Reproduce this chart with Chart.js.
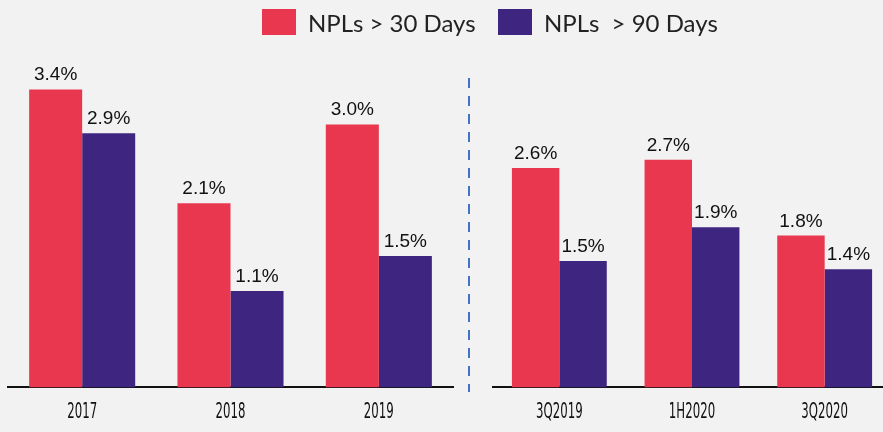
<!DOCTYPE html>
<html>
<head>
<meta charset="utf-8">
<script src="https://cdn.jsdelivr.net/npm/chart.js@4.4.0/dist/chart.umd.min.js"></script>
<style>
  html, body { margin: 0; padding: 0; background: #f2f2f2; overflow: hidden; }
  #wrap { position: relative; width: 883px; height: 432px; overflow: hidden; background: #f2f2f2; }
  canvas { position: absolute; top: 0; }
  #c1 { left: 0; }
  #c2 { left: 478px; }
  .leg { position: absolute; top: 9px; height: 26px; display: flex; align-items: center;
         font-family: Lato, 'DejaVu Sans', sans-serif; font-size: 24px; color: #222; white-space: pre; }
  .leg span.box { display: inline-block; width: 34px; height: 26px; margin-right: 12px; }
</style>
</head>
<body>
<div id="wrap">
  <canvas id="c1" width="475" height="446"></canvas>
  <canvas id="c2" width="413" height="446"></canvas>
  <div class="leg" style="left:262px"><span class="box" style="background:#e8374f"></span>NPLs &gt; 30 Days</div>
  <div class="leg" style="left:498px"><span class="box" style="background:#3e2580"></span>NPLs  &gt; 90 Days</div>
</div>
<script>
// annual figures
const anniLabels = ['2017', '2018', '2019'];
const anniNpl30 = [3.4, 2.1, 3.0];
const anniNpl90 = [2.9, 1.1, 1.5];

// recent periods
const periodiLabels = ['3Q2019', '1H2020', '3Q2020'];
const periodiNpl30 = [2.6, 2.7, 1.8];
const periodiNpl90 = [1.5, 1.9, 1.4];

const rosso = '#e8374f';
const viola = '#3e2580';

const etichette = {
    id: 'etichette',
    afterDatasetsDraw(chart) {
        const ctx = chart.ctx;
        ctx.save();
        ctx.font = '19px "Liberation Sans", Arial, sans-serif';
        ctx.fillStyle = '#111';
        ctx.textAlign = 'center';
        ctx.textBaseline = 'alphabetic';
        chart.data.datasets.forEach((ds, i) => {
            chart.getDatasetMeta(i).data.forEach((bar, j) => {
                ctx.fillText(ds.data[j].toFixed(1) + '%', bar.x, bar.y - 9);
            });
        });
        ctx.restore();
    }
};

// tick labels in a narrow face: squeeze horizontally at the scale's own positions
const tickStretti = {
    id: 'tickStretti',
    afterDraw(chart) {
        const ctx = chart.ctx;
        const x = chart.scales.x;
        ctx.save();
        ctx.font = '21px "DejaVu Sans", sans-serif';
        ctx.fillStyle = '#111';
        ctx.textAlign = 'center';
        ctx.textBaseline = 'alphabetic';
        x.ticks.forEach((t, i) => {
            const px = x.getPixelForTick(i);
            ctx.save();
            ctx.translate(px, chart.chartArea.bottom + 31);
            ctx.scale(0.56, 1);
            ctx.fillText(chart.data.labels[i], 0, 0);
            ctx.restore();
        });
        ctx.restore();
    }
};

const separatore = {
    id: 'separatore',
    afterDraw(chart) {
        const ctx = chart.ctx;
        ctx.save();
        ctx.strokeStyle = '#4472c4';
        ctx.lineWidth = 2;
        ctx.setLineDash([10, 8]);
        ctx.beginPath();
        ctx.moveTo(469, 78);
        ctx.lineTo(469, 392);
        ctx.stroke();
        ctx.restore();
    }
};

function creaGrafico(idCanvas, labels, npl30, npl90, maxY, padding, plugins) {
    const ctx = document.getElementById(idCanvas).getContext('2d');
    return new Chart(ctx, {
        type: 'bar',
        data: {
            labels: labels,
            datasets: [
                { label: 'NPLs > 30 Days', data: npl30, backgroundColor: rosso },
                { label: 'NPLs  > 90 Days', data: npl90, backgroundColor: viola }
            ]
        },
        options: {
            responsive: false,
            animation: false,
            layout: { padding: padding },
            datasets: { bar: { categoryPercentage: 0.715, barPercentage: 1.0 } },
            scales: {
                y: { display: false, min: 0, max: maxY },
                x: {
                    grid: { display: false, drawTicks: false },
                    border: { display: true, color: '#111', width: 2 },
                    ticks: {
                        padding: 13,
                        color: 'rgba(0,0,0,0)',
                        font: { family: '"Liberation Sans", sans-serif', size: 18 }
                    }
                }
            },
            plugins: {
                legend: { display: false },
                tooltip: { enabled: false }
            }
        },
        plugins: plugins
    });
}

creaGrafico('c1', anniLabels, anniNpl30, anniNpl90, 3.85,
    { left: 8, right: 22, top: 50, bottom: 11 }, [etichette, tickStretti, separatore]);
creaGrafico('c2', periodiLabels, periodiNpl30, periodiNpl90, 4.0,
    { left: 15, right: 0, top: 50, bottom: 11 }, [etichette, tickStretti]);
</script>
</body>
</html>
